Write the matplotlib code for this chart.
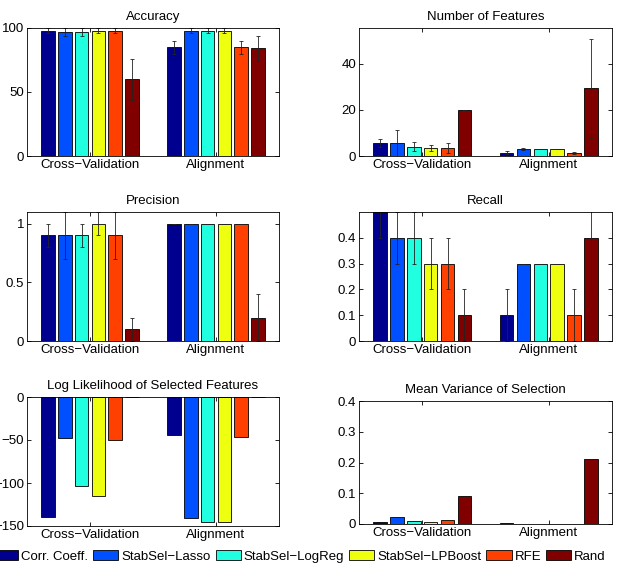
import numpy as np
import matplotlib.pyplot as plt
from matplotlib.patches import Patch

plt.rcParams['font.family'] = ['Liberation Sans', 'DejaVu Sans']
plt.rcParams['font.size'] = 9.5
plt.rcParams['axes.titlesize'] = 9.5

''' values read off the figure: rows = Cross-Validation, Alignment '''
groups = ['Cross\u2212Validation', 'Alignment']
methods = ['Corr. Coeff.', 'StabSel\u2212Lasso', 'StabSel\u2212LogReg',
           'StabSel\u2212LPBoost', 'RFE', 'Rand']
colors = ['#00008F', '#0050FF', '#20FFDF', '#EEFF10', '#FF4000', '#800000']

acc_mean = [[98, 97, 97, 98, 98, 60], [85, 98, 98, 98, 85, 84]]
acc_err = [[2, 3, 3, 2, 2, 16], [5, 2, 2, 2, 5, 10]]

nfeat_mean = [[5.5, 5.5, 4, 3.5, 3.5, 20], [1.5, 3, 3, 3, 1.2, 29.5]]
nfeat_err = [[1.8, 5.8, 1.9, 1.2, 2.3, 0.1], [0.7, 0.4, 0.1, 0.1, 0.5, 21.5]]

prec_mean = [[0.9, 0.9, 0.9, 1.0, 0.9, 0.1], [1, 1, 1, 1, 1, 0.2]]
prec_err = [[0.1, 0.2, 0.1, 0.1, 0.2, 0.1], [0, 0, 0, 0, 0, 0.2]]

rec_mean = [[0.5, 0.4, 0.4, 0.3, 0.3, 0.1], [0.1, 0.3, 0.3, 0.3, 0.1, 0.4]]
rec_err = [[0.1, 0.1, 0.1, 0.1, 0.1, 0.1], [0.1, 0, 0, 0, 0.1, 0.2]]

loglik = [[-140, -48, -103, -115, -50, 0], [-44, -141, -145, -145, -46, 0]]

meanvar = [[0.008, 0.023, 0.01, 0.007, 0.012, 0.09], [0.002, 0.0008, 0, 0, 0, 0.21]]

W, H = 619, 573
fig = plt.figure(figsize=(W / 100, H / 100), dpi=100)


def make_ax(left, top, right, bottom):
    return fig.add_axes([left / W, 1 - bottom / H, (right - left) / W, (bottom - top) / H])


def bars(ax, vals, errs=None):
    vals = np.array(vals)
    n = vals.shape[1]
    slot = 0.8 / n
    x = np.arange(1, vals.shape[0] + 1)
    for i in range(n):
        pos = x + (i - (n - 1) / 2) * slot
        ax.bar(pos, vals[:, i], width=slot * 0.8, color=colors[i],
               edgecolor='black', linewidth=0.6)
        if errs is not None:
            ax.errorbar(pos, vals[:, i], yerr=np.array(errs)[:, i], fmt='none',
                        ecolor='#222222', elinewidth=0.6, capsize=1.5, capthick=0.6)
    ax.set_xlim(0.5, 2.5)
    ax.set_xticks(x)
    ax.set_xticklabels(groups)
    ax.tick_params(direction='in', top=True, right=True, length=3, width=0.6, pad=2)
    for s in ax.spines.values():
        s.set_linewidth(0.6)


ax1 = make_ax(27, 28, 279, 156)
bars(ax1, acc_mean, acc_err)
ax1.set_ylim(0, 100)
ax1.set_yticks([0, 50, 100])
ax1.set_title('Accuracy', pad=5.5)

ax2 = make_ax(359, 28, 612, 156)
bars(ax2, nfeat_mean, nfeat_err)
ax2.set_ylim(0, 55.6)
ax2.set_yticks([0, 20, 40])
ax2.set_title('Number of Features', pad=5.5)

ax3 = make_ax(27, 212, 279, 341)
bars(ax3, prec_mean, prec_err)
ax3.set_ylim(0, 1.1)
ax3.set_yticks([0, 0.5, 1])
ax3.set_yticklabels(['0', '0.5', '1'])
ax3.set_title('Precision', pad=5.5)

ax4 = make_ax(359, 212, 612, 341)
bars(ax4, rec_mean, rec_err)
ax4.set_ylim(0, 0.5)
ax4.set_yticks([0, 0.1, 0.2, 0.3, 0.4])
ax4.set_yticklabels(['0', '0.1', '0.2', '0.3', '0.4'])
ax4.set_title('Recall', pad=5.5)

ax5 = make_ax(27, 397, 279, 526)
bars(ax5, loglik)
ax5.set_ylim(-150, 0)
ax5.set_yticks([-150, -100, -50, 0])
ax5.set_title('Log Likelihood of Selected Features', pad=5.5)

ax6 = make_ax(359, 401, 612, 524)
bars(ax6, meanvar)
ax6.set_ylim(0, 0.4)
ax6.set_yticks([0, 0.1, 0.2, 0.3, 0.4])
ax6.set_yticklabels(['0', '0.1', '0.2', '0.3', '0.4'])
ax6.set_title('Mean Variance of Selection', pad=5.5)

handles = [Patch(facecolor=c, edgecolor='black', linewidth=0.6) for c in colors]
fig.legend(handles, methods, loc='center', bbox_to_anchor=(299.5 / W, 1 - 556.5 / H),
           ncol=6, frameon=False, handlelength=1.9, handleheight=0.83,
           handletextpad=0.23, columnspacing=0.38, borderaxespad=0, borderpad=0)

plt.savefig('out.png', dpi=100)
